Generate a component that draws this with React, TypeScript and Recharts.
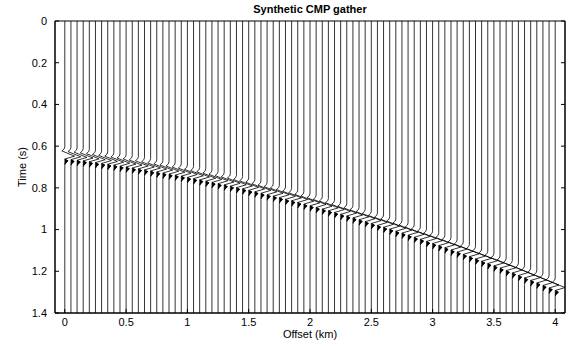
import React from 'react';
import { ScatterChart, Scatter, XAxis, YAxis, ReferenceArea } from 'recharts';

// trace positions (km)
const offsets = [
  0, 0.05, 0.1, 0.15, 0.2, 0.25, 0.3, 0.35, 0.4, 0.45,
  0.5, 0.55, 0.6, 0.65, 0.7, 0.75, 0.8, 0.85, 0.9, 0.95,
  1, 1.05, 1.1, 1.15, 1.2, 1.25, 1.3, 1.35, 1.4, 1.45,
  1.5, 1.55, 1.6, 1.65, 1.7, 1.75, 1.8, 1.85, 1.9, 1.95,
  2, 2.05, 2.1, 2.15, 2.2, 2.25, 2.3, 2.35, 2.4, 2.45,
  2.5, 2.55, 2.6, 2.65, 2.7, 2.75, 2.8, 2.85, 2.9, 2.95,
  3, 3.05, 3.1, 3.15, 3.2, 3.25, 3.3, 3.35, 3.4, 3.45,
  3.5, 3.55, 3.6, 3.65, 3.7, 3.75, 3.8, 3.85, 3.9, 3.95,
  4,
];

// reflection time read per trace (s)
const arrivals = [
  0.648, 0.651, 0.654, 0.657, 0.661, 0.665, 0.669, 0.673, 0.677, 0.682,
  0.686, 0.691, 0.695, 0.7, 0.705, 0.71, 0.715, 0.72, 0.725, 0.73,
  0.736, 0.742, 0.748, 0.754, 0.76, 0.766, 0.772, 0.778, 0.785, 0.791,
  0.798, 0.805, 0.812, 0.819, 0.826, 0.833, 0.841, 0.848, 0.856, 0.864,
  0.872, 0.88, 0.888, 0.896, 0.904, 0.913, 0.921, 0.93, 0.939, 0.948,
  0.957, 0.966, 0.975, 0.984, 0.994, 1.003, 1.013, 1.023, 1.033, 1.043,
  1.053, 1.063, 1.073, 1.084, 1.094, 1.105, 1.116, 1.127, 1.138, 1.149,
  1.16, 1.171, 1.183, 1.194, 1.206, 1.218, 1.23, 1.242, 1.254, 1.266,
  1.278,
];

// wavelet outline: time shift (s) and horizontal swing (km)
const waveletDt = [-0.045, -0.035, -0.025, 0, 0.014, 0.022, 0.032, 0.045];
const waveletAmp = [0, -0.005, -0.024, 0.08, 0, 0.026, 0.003, 0];

// filled lobe under the wavelet
const blobDt = [0.014, 0.022, 0.04];
const blobAmp = [0, 0.026, 0];

const xTicks = [0, 0.5, 1, 1.5, 2, 2.5, 3, 3.5, 4];
const yTicks = [0, 0.2, 0.4, 0.6, 0.8, 1, 1.2, 1.4];

const traces = offsets.map((x0, i) => [
  { x: x0, t: 0 },
  ...waveletDt.map((d, j) => ({ x: x0 + waveletAmp[j], t: arrivals[i] + d })),
  { x: x0, t: 1.4 },
]);

const blobs = offsets.map((x0, i) =>
  blobDt.map((d, j) => ({ x: x0 + blobAmp[j], t: arrivals[i] + d }))
);

const font = '"Liberation Sans", Arial, sans-serif';
const noDot = () => <g />;
const fillLobe = (p: any) => {
  const pts = p.points || [];
  if (!pts.length) return <g />;
  const d = pts.map((q: any, k: number) => `${k ? 'L' : 'M'}${q.x},${q.y}`).join(' ') + ' Z';
  return <path d={d} fill="#000" stroke="#000" strokeWidth={0.6} />;
};

export default function App() {
  return (
    <div style={{ position: 'absolute', left: 0, top: 0, width: 572, height: 346, background: '#fff', fontFamily: font }}>
      <ScatterChart width={572} height={346} margin={{ top: 21, right: 6, bottom: 13, left: 15 }}>
        <XAxis
          type="number"
          dataKey="x"
          domain={[-0.08, 4.08]}
          ticks={xTicks}
          allowDataOverflow
          height={20}
          stroke="#000"
          tickSize={-4}
          tickMargin={9}
          tick={{ fill: '#000', fontSize: 11, fontFamily: font }}
        />
        <YAxis
          type="number"
          dataKey="t"
          domain={[0, 1.4]}
          reversed
          ticks={yTicks}
          allowDataOverflow
          width={40}
          stroke="#000"
          tickSize={-4}
          tickMargin={12}
          tick={{ fill: '#000', fontSize: 11, fontFamily: font }}
        />
        <YAxis
          yAxisId="r"
          orientation="right"
          type="number"
          domain={[0, 1.4]}
          reversed
          ticks={yTicks}
          allowDataOverflow
          width={1}
          stroke="#000"
          tickSize={-4}
          tickFormatter={() => ''}
        />
        <ReferenceArea x1={-0.08} x2={4.08} y1={0} y2={1.4} fill="none" stroke="#000" strokeWidth={1} />
        {traces.map((tr, i) => (
          <Scatter
            key={'t' + i}
            data={tr}
            shape={noDot}
            line={{ stroke: '#000', strokeWidth: 0.8 }}
            isAnimationActive={false}
          />
        ))}
        {blobs.map((b, i) => (
          <Scatter key={'b' + i} data={b} shape={noDot} line={fillLobe} isAnimationActive={false} />
        ))}
      </ScatterChart>
      <div style={{ position: 'absolute', left: 55, width: 510, top: 3, textAlign: 'center', fontSize: 11, fontWeight: 'bold' }}>
        Synthetic CMP gather
      </div>
      <div style={{ position: 'absolute', left: 55, width: 510, top: 328, textAlign: 'center', fontSize: 11 }}>
        Offset (km)
      </div>
      <div
        style={{
          position: 'absolute',
          left: 22,
          top: 167,
          fontSize: 11,
          whiteSpace: 'nowrap',
          transform: 'translate(-50%, -50%) rotate(-90deg)',
        }}
      >
        Time (s)
      </div>
    </div>
  );
}
